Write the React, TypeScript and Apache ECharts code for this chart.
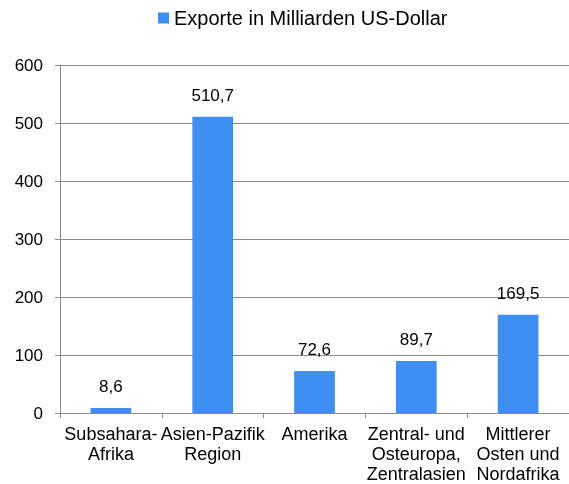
import React, { useEffect, useRef } from "react";
import * as echarts from "echarts";

const categories = [
  "Subsahara-\nAfrika",
  "Asien-Pazifik\nRegion",
  "Amerika",
  "Zentral- und\nOsteuropa,\nZentralasien",
  "Mittlerer\nOsten und\nNordafrika",
];
const values = [8.6, 510.7, 72.6, 89.7, 169.5];
const seriesName = "Exporte in Milliarden US-Dollar";

export default function App() {
  const ref = useRef<HTMLDivElement>(null);
  useEffect(() => {
    const chart = echarts.init(ref.current!, null, { renderer: "svg" });
    chart.setOption({
      animation: false,
      textStyle: { fontFamily: "Liberation Sans, Arial, sans-serif" },
      legend: {
        top: 8,
        left: 158,
        padding: 0,
        itemWidth: 11,
        itemHeight: 11,
        icon: "rect",
        textStyle: { fontSize: 20, color: "#000" },
        data: [seriesName],
      },
      grid: { left: 60, right: -5.5, top: 65, bottom: 71, containLabel: false },
      xAxis: {
        type: "category",
        data: categories,
        axisLine: { lineStyle: { color: "#8c8c8c", width: 1 } },
        axisTick: { show: true, length: 5, lineStyle: { color: "#8c8c8c" } },
        axisLabel: {
          interval: 0,
          color: "#000",
          fontSize: 18,
          lineHeight: 20,
          margin: 11,
          align: "center",
        },
      },
      yAxis: {
        type: "value",
        min: 0,
        max: 600,
        interval: 100,
        axisLine: { show: true, lineStyle: { color: "#8c8c8c", width: 1 } },
        axisTick: { show: true, length: 5, lineStyle: { color: "#8c8c8c" } },
        splitLine: { lineStyle: { color: "#8c8c8c", width: 1 } },
        axisLabel: { color: "#000", fontSize: 17, margin: 17 },
      },
      series: [
        {
          name: seriesName,
          type: "bar",
          data: values,
          barWidth: "40%",
          itemStyle: { color: "#3F8FF2" },
          label: {
            show: true,
            position: "top",
            distance: 13,
            color: "#000",
            fontSize: 17,
            formatter: (p: any) => String(p.value).replace(".", ","),
          },
        },
      ],
    });
    return () => chart.dispose();
  }, []);
  return (
    <div
      ref={ref}
      style={{ position: "fixed", left: 0, top: 0, width: 569, height: 484 }}
    />
  );
}
